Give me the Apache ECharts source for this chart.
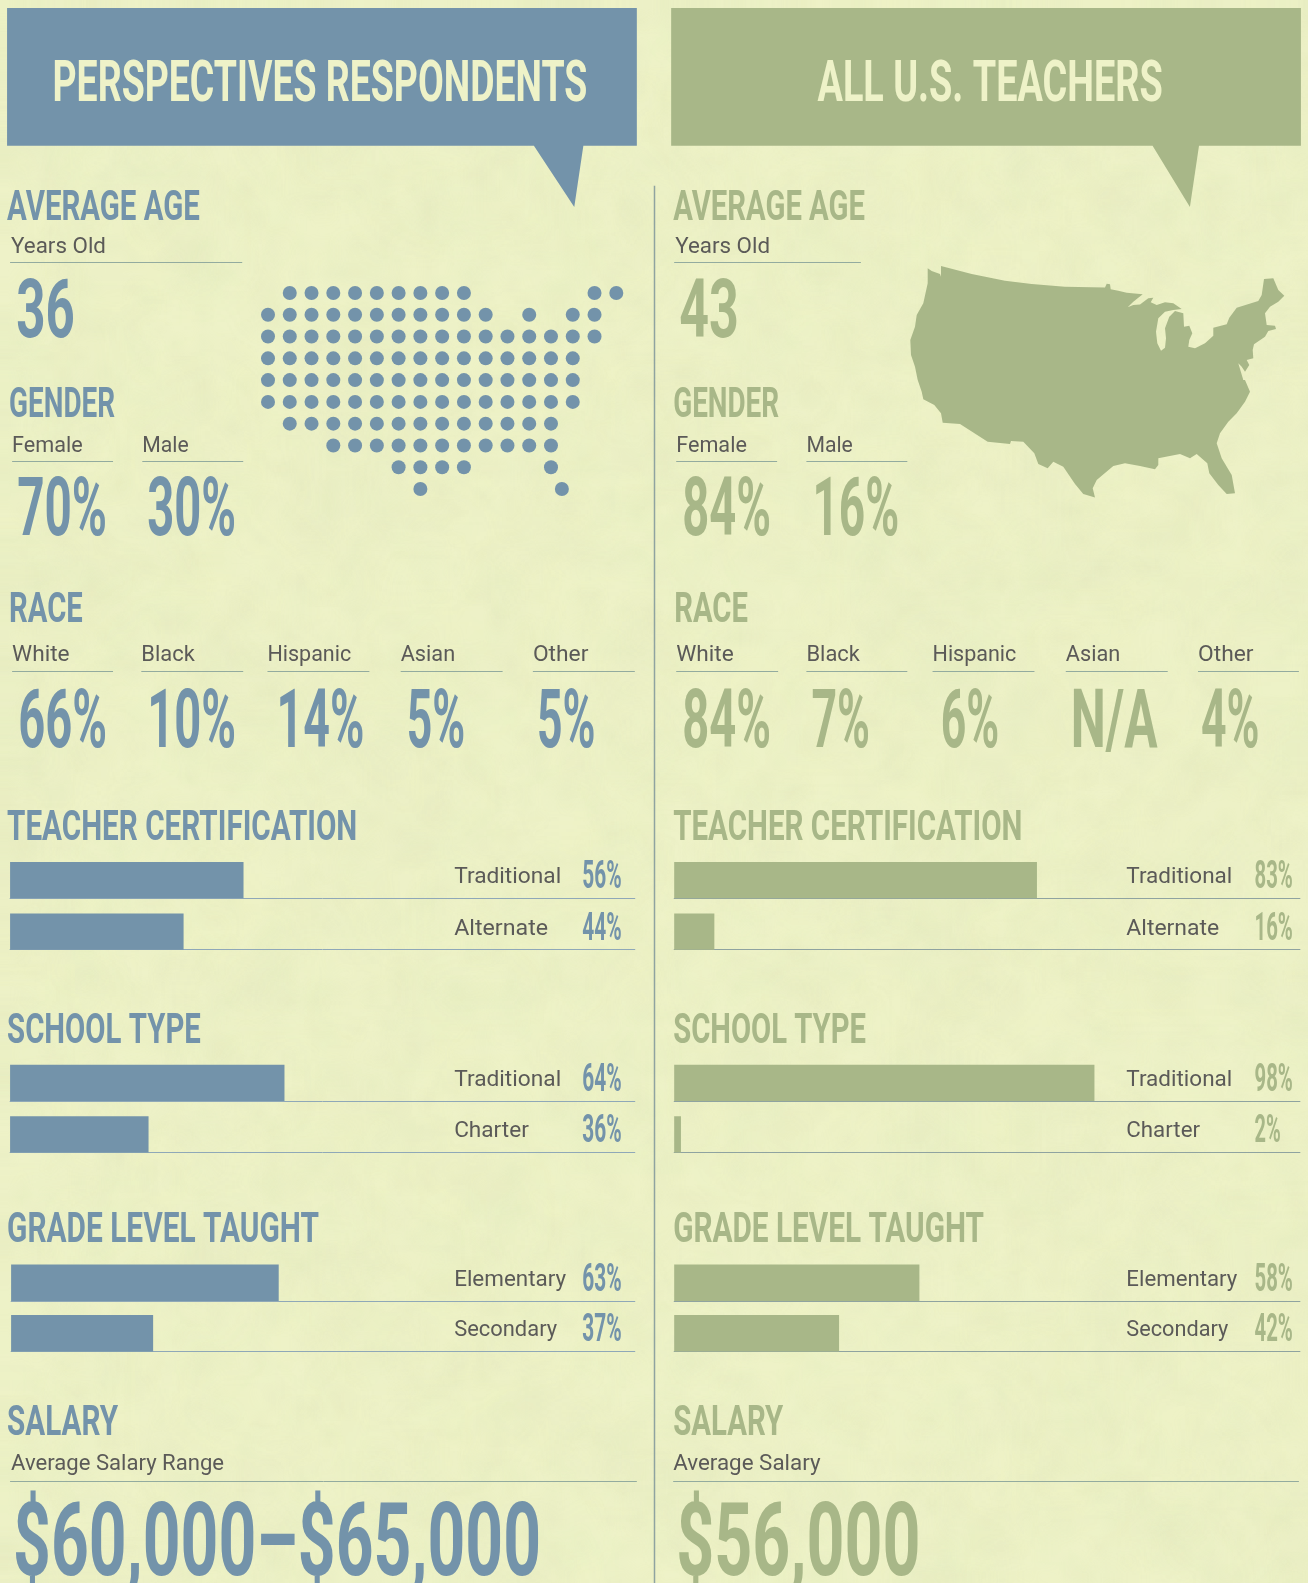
<!DOCTYPE html>
<html>
<head>
<meta charset="utf-8">
<title>Perspectives respondents vs all U.S. teachers</title>
<script src="https://cdn.jsdelivr.net/npm/echarts@6/dist/echarts.min.js"></script>
<style>
html,body{margin:0;padding:0;background:#edf1c6;overflow:hidden;}
#chart{width:1308px;height:1583px;}
</style>
</head>
<body>
<div id="chart"></div>
<script>
/*Teacher profile Init*/

"use strict";

/*****Data start*****/
var headerTitles = ['PERSPECTIVES RESPONDENTS', 'ALL U.S. TEACHERS'];
var ageValues = ['36', '43'];

var genderCats = ['Female', 'Male'];
var genderLeft = ['70%', '30%'];
var genderRight = ['84%', '16%'];

var raceCats = ['White', 'Black', 'Hispanic', 'Asian', 'Other'];
var raceLeft = ['66%', '10%', '14%', '5%', '5%'];
var raceRight = ['84%', '7%', '6%', 'N/A', '4%'];

var certCats = ['Traditional', 'Alternate'];
var certLeft = ['56%', '44%'];
var certRight = ['83%', '16%'];
var schoolCats = ['Traditional', 'Charter'];
var schoolLeft = ['64%', '36%'];
var schoolRight = ['98%', '2%'];
var gradeCats = ['Elementary', 'Secondary'];
var gradeLeft = ['63%', '37%'];
var gradeRight = ['58%', '42%'];

/* bar lengths, they do not follow the printed percents exactly */
var certLeftBars = [55.3, 41.1];
var certRightBars = [85.8, 9.5];
var schoolLeftBars = [65.0, 32.8];
var schoolRightBars = [99.4, 1.6];
var gradeLeftBars = [63.5, 33.7];
var gradeRightBars = [58.0, 39.0];

var salaryLabels = ['Average Salary Range', 'Average Salary'];
var salaryValues = ['$60,000\u2013$65,000', '$56,000'];

/* dot map: columns filled in each row */
var dotRows = [
	[1, 2, 3, 4, 5, 6, 7, 8, 9, 15, 16],
	[0, 1, 2, 3, 4, 5, 6, 7, 8, 9, 10, 12, 14, 15],
	[0, 1, 2, 3, 4, 5, 6, 7, 8, 9, 10, 11, 12, 13, 14, 15],
	[0, 1, 2, 3, 4, 5, 6, 7, 8, 9, 10, 11, 12, 13, 14],
	[0, 1, 2, 3, 4, 5, 6, 7, 8, 9, 10, 11, 12, 13, 14],
	[0, 1, 2, 3, 4, 5, 6, 7, 8, 9, 10, 11, 12, 13, 14],
	[1, 2, 3, 4, 5, 6, 7, 8, 9, 10, 11, 12, 13],
	[3, 4, 5, 6, 7, 8, 9, 10, 11, 12, 13],
	[6, 7, 8, 9, 13],
	[7, 13.5]
];

/* outline of the lower 48 */
var usaOutline = [
	[927.7,268.3],[931.7,271],[940,274],[941,276.7],[941,266],[971.7,274],[1005,280.7],[1031.7,284],[1065,286.7],[1105,287.5],
	[1106.7,283.7],[1110,284.3],[1110.7,289.3],[1118.3,290.7],[1126.7,292.7],[1142.7,294.3],[1133.3,301.7],[1127.7,307.3],[1133.3,305],
	[1140,304.5],[1148.3,298.3],[1153.3,297.7],[1150.7,302.3],[1156.7,305],[1165,302.3],[1173.3,303.3],[1181.7,309],[1173.3,310],
	[1165,311.7],[1158.3,318.3],[1156,331.7],[1157.3,343.3],[1161,350.7],[1165,347.7],[1166,338.3],[1165,328.3],[1169.3,316.7],[1175,311],
	[1183.3,313.3],[1184,326.7],[1189.3,325.7],[1192.3,333.3],[1189.3,340],[1188.3,346.7],[1195,348.3],[1205,343.3],[1213.3,335.7],
	[1213.3,327.7],[1226.7,324.3],[1229.3,317.7],[1236.7,307.7],[1258.3,301],[1261.7,295],[1264,279],[1273.3,278.3],[1278.3,290],
	[1284.3,295.7],[1278.3,301.7],[1270,306.7],[1265,313.3],[1266.7,325],[1275,325.7],[1276,329],[1268.3,331],[1265,336.7],[1254,344.3],
	[1252.7,350],[1253.3,358.3],[1246.7,360],[1249.3,365],[1245,371.7],[1241.7,366.7],[1238.3,363.3],[1243.3,380],[1245,380],[1250,391.7],
	[1245,401.7],[1236.7,413.3],[1228.3,421.7],[1220,433.3],[1216.7,443.3],[1221.7,458.3],[1231.7,475],[1235,493.3],[1226.7,494],
	[1218.3,485],[1209.3,473.3],[1207.3,463.3],[1196.7,454],[1190,458.3],[1180,454],[1158.3,458.3],[1158.3,465],[1155,469.3],[1140,466],
	[1125,463.3],[1113.3,466],[1096.7,480],[1092.7,488.3],[1095,497.5],[1083.3,494],[1075,484],[1063.3,466.7],[1053.3,461.7],[1047.7,468.3],
	[1038.3,464],[1034.3,453.3],[1023.3,441.7],[1011,441],[1010,444],[987.7,441.7],[960,424],[942.7,422.7],[941,413.3],[934.3,405],
	[923.3,399.3],[921.7,391.7],[917.7,380],[915,366.7],[911,355],[910.3,340],[915,326.7],[916.7,315],[923.3,303.3],[927.7,283.3]
];
/*****Data end*****/

/*****Helpers start*****/
var BG = '#eef2c8';
var BLUE = '#7393aa';
var GREEN = '#a8b788';
var INK = '#5b5a58';
var RULE = '#93ab9f';
var BAR_RULE_LEFT = '#8fa8b8';
var BAR_RULE_RIGHT = '#8fa3a0';
var HEAD_FONT = 'Roboto';
var BODY_FONT = 'Roboto';

var k = 1308 / 1296;
var measure = document.createElement('canvas').getContext('2d');
var graphics = [];

var addText = function(str, x1, x2, base, cap, color, font, weight) {
	var size = cap * k / 0.711;
	var fontStr = weight + ' ' + size + 'px ' + font;
	measure.font = fontStr;
	graphics.push({
		type: 'text',
		x: x1 * k,
		y: base * k - size * 0.25,
		scaleX: (x2 - x1) * k / measure.measureText(str).width,
		silent: true,
		z: 20,
		style: {
			text: str,
			x: 0,
			y: 0,
			font: fontStr,
			fill: color,
			align: 'left',
			verticalAlign: 'middle'
		}
	});
};
var addHead = function(str, x1, x2, base, color) {
	addText(str, x1, x2, base, 30, color, HEAD_FONT, 'bold');
};
var addBody = function(str, x1, x2, base) {
	addText(str, x1, x2, base, 15.5, INK, BODY_FONT, 'normal');
};
var addBig = function(str, x1, x2, base, color) {
	addText(str, x1, x2, base, 57, color, HEAD_FONT, 'bold');
};
var addRule = function(x1, x2, y, color) {
	graphics.push({
		type: 'line',
		silent: true,
		z: 10,
		shape: {x1: x1 * k, y1: Math.round(y * k) + 0.5, x2: x2 * k, y2: Math.round(y * k) + 0.5},
		style: {stroke: color, lineWidth: 1}
	});
};
var addBanner = function(x1, x2, tailA, tailB, tipX, color) {
	graphics.push({
		type: 'polygon',
		silent: true,
		z: 5,
		shape: {points: [
			[x1 * k, 8 * k], [x2 * k, 8 * k], [x2 * k, 144.5 * k], [tailB * k, 144.5 * k],
			[tipX * k, 205 * k], [tailA * k, 144.5 * k], [x1 * k, 144.5 * k]
		]},
		style: {fill: color}
	});
};

var grids = [], xAxes = [], yAxes = [], barSeries = [];
var addBar = function(x1, x2, top, name, value, color, ruleColor) {
	var idx = grids.length;
	grids.push({left: x1 * k, top: top * k, width: (x2 - x1) * k, height: 36 * k, containLabel: false});
	xAxes.push({
		gridIndex: idx, type: 'value', min: 0, max: 148,
		axisLabel: {show: false}, axisTick: {show: false}, splitLine: {show: false},
		axisLine: {show: true, onZero: false, lineStyle: {color: ruleColor, width: 1}}
	});
	yAxes.push({gridIndex: idx, type: 'category', data: [name], show: false});
	barSeries.push({
		type: 'bar', xAxisIndex: idx, yAxisIndex: idx, data: [value], barWidth: '100%',
		silent: true, itemStyle: {color: color}, animation: false
	});
};

/* faint paper mottling behind the chart, no data in it */
var paperTexture = function() {
	var w = 1308, h = 1583;
	var out = document.createElement('canvas');
	out.width = w;
	out.height = h;
	var ctx = out.getContext('2d');
	ctx.fillStyle = BG;
	ctx.fillRect(0, 0, w, h);
	ctx.imageSmoothingEnabled = true;
	[[14, 0.035], [26, 0.03], [60, 0.025]].forEach(function(layer) {
		var cell = layer[0];
		var cols = Math.ceil(w / cell), rows = Math.ceil(h / cell);
		var small = document.createElement('canvas');
		small.width = cols;
		small.height = rows;
		var sctx = small.getContext('2d');
		for (var y = 0; y < rows; y++) {
			for (var x = 0; x < cols; x++) {
				var n = Math.sin((x + cell) * 12.9898 + (y + cell) * 78.233) * 43758.5453;
				n = n - Math.floor(n);
				sctx.fillStyle = 'rgba(205,215,160,' + (n * n * layer[1] * 2) + ')';
				sctx.fillRect(x, y, 1, 1);
			}
		}
		ctx.drawImage(small, 0, 0, cols * cell, rows * cell);
	});
	return out.toDataURL();
};
/*****Helpers end*****/

/*****Layout start*****/
/* banners */
addBanner(7, 631, 529, 578, 569, BLUE);
addBanner(665, 1289, 1142, 1188, 1179, GREEN);
addText(headerTitles[0], 52, 582, 100, 40, BG, HEAD_FONT, 'bold');
addText(headerTitles[1], 810, 1152, 100, 40, BG, HEAD_FONT, 'bold');

/* divider between the two columns */
graphics.push({
	type: 'line', silent: true, z: 3,
	shape: {x1: 654.5, y1: 184 * k, x2: 654.5, y2: 1583},
	style: {stroke: '#8fa3a0', lineWidth: 1.5}
});

/* average age */
addHead('AVERAGE AGE', 7, 198, 218, BLUE);
addHead('AVERAGE AGE', 667, 857, 218, GREEN);
addBody('Years Old', 11, 105, 251);
addBody('Years Old', 669, 763, 251);
addRule(10, 240, 260, RULE);
addRule(668, 853, 260, RULE);
addBig(ageValues[0], 16, 74, 334, BLUE);
addBig(ageValues[1], 673, 732, 334, GREEN);

/* gender */
addHead('GENDER', 9, 114, 413, BLUE);
addHead('GENDER', 667, 772, 413, GREEN);
addBody(genderCats[0], 12, 82, 448);
addBody(genderCats[1], 141, 187, 448);
addBody(genderCats[0], 670, 740, 448);
addBody(genderCats[1], 799, 845, 448);
addRule(12, 112, 457, RULE);
addRule(141, 241, 457, RULE);
addRule(670, 770, 457, RULE);
addRule(799, 899, 457, RULE);
addBig(genderLeft[0], 17, 106, 530, BLUE);
addBig(genderLeft[1], 146, 234, 530, BLUE);
addBig(genderRight[0], 676, 764, 530, GREEN);
addBig(genderRight[1], 805, 891, 530, GREEN);

/* race */
addHead('RACE', 9, 82, 616, BLUE);
addHead('RACE', 668, 741, 616, GREEN);
var raceLabelLeft = [[12, 69], [140, 193], [265, 348], [397, 451], [528, 583]];
var raceLabelRight = [[670, 727], [799, 852], [924, 1007], [1056, 1110], [1187, 1242]];
var raceRuleLeft = [[12, 112], [140, 241], [265, 366], [397, 498], [528, 629]];
var raceRuleRight = [[670, 771], [799, 899], [924, 1025], [1056, 1157], [1187, 1287]];
var raceBigLeft = [[18, 106], [146, 234], [274, 361], [403, 461], [532, 590]];
var raceBigRight = [[676, 764], [804, 862], [932, 990], [1061, 1147], [1190, 1248]];
raceCats.forEach(function(name, i) {
	addBody(name, raceLabelLeft[i][0], raceLabelLeft[i][1], 655);
	addBody(name, raceLabelRight[i][0], raceLabelRight[i][1], 655);
	addRule(raceRuleLeft[i][0], raceRuleLeft[i][1], 665, RULE);
	addRule(raceRuleRight[i][0], raceRuleRight[i][1], 665, RULE);
	addBig(raceLeft[i], raceBigLeft[i][0], raceBigLeft[i][1], 740, BLUE);
	addBig(raceRight[i], raceBigRight[i][0], raceBigRight[i][1], 740, GREEN);
});

/* bar sections */
var barSection = function(title, leftHeadEnd, rightHeadEnd, headBase, top, cats, leftPct, rightPct, leftBars, rightBars, labelEnds, rightLabelEnds, gap, leftStart) {
	addHead(title, 7, leftHeadEnd, headBase, BLUE);
	addHead(title, 667, rightHeadEnd, headBase, GREEN);
	cats.forEach(function(name, i) {
		var y = top + i * gap;
		addBar(leftStart, 629, y, name, leftBars[i], BLUE, BAR_RULE_LEFT);
		addBar(668, 1288, y, name, rightBars[i], GREEN, BAR_RULE_RIGHT);
		addBody(name, 450, labelEnds[i], y + 21);
		addBody(name, 1116, rightLabelEnds[i], y + 21);
		addText(leftPct[i], 577, 616, y + 26, 27, BLUE, HEAD_FONT, 'bold');
		addText(rightPct[i], 1243, rightPct[i].length > 2 ? 1281 : 1269, y + 26, 27, GREEN, HEAD_FONT, 'bold');
	});
};
barSection('TEACHER CERTIFICATION', 354, 1013, 832, 854, certCats, certLeft, certRight, certLeftBars, certRightBars, [556, 543], [1221, 1208], 51, 10);
barSection('SCHOOL TYPE', 199, 858, 1033, 1055, schoolCats, schoolLeft, schoolRight, schoolLeftBars, schoolRightBars, [556, 524], [1221, 1189], 51, 10);
barSection('GRADE LEVEL TAUGHT', 316, 975, 1231, 1253, gradeCats, gradeLeft, gradeRight, gradeLeftBars, gradeRightBars, [561, 552], [1226, 1217], 50, 11);

/* salary */
addHead('SALARY', 7, 117, 1422, BLUE);
addHead('SALARY', 667, 776, 1422, GREEN);
addBody(salaryLabels[0], 11, 222, 1457);
addBody(salaryLabels[1], 667, 813, 1457);
addRule(10, 631, 1467, RULE);
addRule(667, 1287, 1467, RULE);
addText(salaryValues[0], 13, 536, 1561, 72, BLUE, HEAD_FONT, 'bold');
addText(salaryValues[1], 670, 912, 1561, 72, GREEN, HEAD_FONT, 'bold');
/*****Layout end*****/

/*****Chart start*****/
var dotData = [];
dotRows.forEach(function(cols, row) {
	cols.forEach(function(col) {
		dotData.push([col, row]);
	});
});

var usaRing = usaOutline.map(function(p) { return [p[0], -p[1]]; });
usaRing.push(usaRing[0]);
var usaX = usaOutline.map(function(p) { return p[0]; });
var usaY = usaOutline.map(function(p) { return p[1]; });
var usaLeft = Math.min.apply(null, usaX);
var usaTop = Math.min.apply(null, usaY);

echarts.registerMap('usa', {
	type: 'FeatureCollection',
	features: [{
		type: 'Feature',
		properties: {name: 'USA'},
		geometry: {type: 'Polygon', coordinates: [usaRing]}
	}]
});

/* grid for the dot map is the last one */
var dotGrid = grids.length;
grids.push({left: 268, top: 293, width: 348.3, height: 196});
xAxes.push({gridIndex: dotGrid, type: 'value', min: 0, max: 16, show: false});
yAxes.push({gridIndex: dotGrid, type: 'value', min: 0, max: 9, inverse: true, show: false});

document.getElementById('chart').style.background = 'url(' + paperTexture() + ')';

var chart = echarts.init(document.getElementById('chart'));
chart.setOption({
	animation: false,
	backgroundColor: 'transparent',
	tooltip: {show: false},
	legend: {show: false},
	grid: grids,
	xAxis: xAxes,
	yAxis: yAxes,
	geo: {
		map: 'usa',
		aspectScale: 1,
		left: usaLeft,
		top: usaTop,
		width: Math.max.apply(null, usaX) - usaLeft,
		height: Math.max.apply(null, usaY) - usaTop,
		roam: false,
		silent: true,
		label: {show: false},
		itemStyle: {areaColor: GREEN, borderWidth: 0},
		emphasis: {disabled: true}
	},
	series: barSeries.concat([{
		type: 'scatter',
		xAxisIndex: dotGrid,
		yAxisIndex: dotGrid,
		data: dotData,
		symbol: 'circle',
		symbolSize: 14,
		silent: true,
		clip: false,
		itemStyle: {color: BLUE, opacity: 1}
	}]),
	graphic: {elements: graphics}
});
/*****Chart end*****/
</script>
</body>
</html>
